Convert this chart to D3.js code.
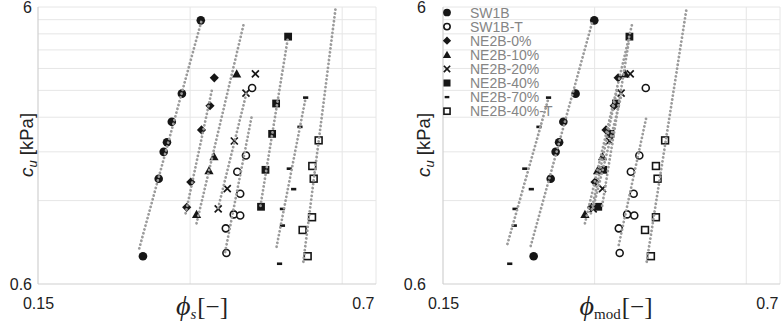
<!DOCTYPE html>
<html lang="en">
<head>
<meta charset="UTF-8">
<title>cu vs phi</title>
<script src="https://d3js.org/d3.v7.min.js"></script>
<style>
  body { margin: 0; background: #fff; overflow: hidden; }
  svg { display: block; }
  .tick text { font-family: "Liberation Sans", Arial, sans-serif; }
</style>
</head>
<body>
<script>
// series, same order as the legend
const seriesNames = ["SW1B", "SW1B-T", "NE2B-0%", "NE2B-10%", "NE2B-20%", "NE2B-40%", "NE2B-70%", "NE2B-40%-T"];
const seriesMarkers = ["circleFill", "circleOpen", "diamond", "triangle", "cross", "squareFill", "dash", "squareOpen"];

// undrained shear strength cu [kPa], shared by both panels
const cuValues = [
  [5.37, 2.92, 2.31, 1.95, 1.80, 1.44, 0.756],
  [3.06, 1.745, 1.525, 1.27, 1.07, 1.06, 0.953, 0.776],
  [3.33, 2.64, 2.16, 1.40, 1.135],
  [3.44, 1.73, 1.54, 1.07],
  [3.44, 2.93, 1.97, 1.325, 1.12],
  [4.69, 2.69, 2.09, 1.55, 1.14],
  [2.825, 2.215, 1.565, 1.32, 1.12, 0.975, 0.71],
  [1.98, 1.60, 1.44, 1.045, 0.94, 0.756]
];

// solid fraction phi_s (left panel)
const phiSValues = [
  [0.315, 0.289, 0.276, 0.270, 0.266, 0.260, 0.242],
  [0.398, 0.387, 0.372, 0.377, 0.366, 0.377, 0.353, 0.354],
  [0.335, 0.3285, 0.316, 0.301, 0.2954],
  [0.371, 0.3345, 0.327, 0.309],
  [0.404, 0.387, 0.367, 0.3554, 0.341],
  [0.469, 0.444, 0.436, 0.423, 0.4145],
  [0.508, 0.495, 0.4715, 0.481, 0.457, 0.457, 0.451],
  [0.539, 0.5236, 0.527, 0.523, 0.501, 0.5127]
];

// modified fraction phi_mod (right panel)
const phiModValues = [
  [0.2995, 0.275, 0.260, 0.255, 0.251, 0.2454, 0.227],
  [0.379, 0.368, 0.354, 0.3586, 0.348, 0.3596, 0.335, 0.3364],
  [0.334, 0.328, 0.316, 0.3005, 0.2957],
  [0.345, 0.311, 0.304, 0.287],
  [0.353, 0.3386, 0.321, 0.311, 0.298],
  [0.3517, 0.3306, 0.3225, 0.312, 0.305],
  [0.243, 0.2326, 0.218, 0.2246, 0.2085, 0.2078, 0.2035],
  [0.414, 0.397, 0.400, 0.397, 0.3777, 0.388]
];

// power trend lines, [phi1, cu1, phi2, cu2]
const trendS = [
  [0.238, 0.807, 0.316, 5.35],
  [0.352, 0.783, 0.397, 2.40],
  [0.294, 1.08, 0.332, 3.06],
  [0.309, 0.994, 0.384, 5.31],
  [0.341, 1.13, 0.388, 2.94],
  [0.4135, 1.15, 0.469, 4.69],
  [0.445, 0.818, 0.508, 2.82],
  [0.5026, 0.722, 0.5825, 5.98]
];
const trendMod = [
  [0.224, 0.823, 0.297, 5.32],
  [0.335, 0.83, 0.380, 2.40],
  [0.295, 1.08, 0.333, 3.06],
  [0.287, 0.994, 0.357, 5.31],
  [0.298, 1.13, 0.340, 2.94],
  [0.3105, 1.15, 0.352, 4.69],
  [0.2014, 0.837, 0.2424, 2.77],
  [0.3806, 0.722, 0.457, 5.98]
];

const xDomain = [0.15, 0.7];
const yDomain = [0.6, 6];
const xTicks = [0.15, 0.7];
const yTicks = [0.6, 6];
const xGrid = [0.3, 0.6, 0.7];
const yGrid = [1.2, 1.8, 2.4, 3.0, 3.6, 4.2, 4.8, 5.4, 6.0];

const width = 782, height = 321;
const plotTop = 7, plotBottom = 284;
const ink = "#161616";

const svg = d3.select("body").append("svg")
  .attr("width", width)
  .attr("height", height);

function drawMarker(g, type, k) {
  k = k || 1;
  if (type === "circleFill") {
    g.append("circle").attr("r", 4.3 * k).attr("fill", ink);
  } else if (type === "circleOpen") {
    g.append("circle").attr("r", 3.5 * k).attr("fill", "#fff").attr("stroke", ink).attr("stroke-width", 1.6);
  } else if (type === "diamond") {
    const s = 4.6 * k;
    g.append("path").attr("d", `M0,${-s}L${s},0L0,${s}L${-s},0Z`).attr("fill", ink);
  } else if (type === "triangle") {
    const s = 4.6 * k;
    g.append("path").attr("d", `M0,${-s}L${s},${s * 0.8}L${-s},${s * 0.8}Z`).attr("fill", ink);
  } else if (type === "cross") {
    const s = 3.5 * k;
    g.append("path").attr("d", `M${-s},${-s}L${s},${s}M${s},${-s}L${-s},${s}`)
      .attr("stroke", ink).attr("stroke-width", 1.7).attr("fill", "none");
  } else if (type === "squareFill") {
    const s = 3.9 * k;
    g.append("rect").attr("x", -s).attr("y", -s).attr("width", 2 * s).attr("height", 2 * s).attr("fill", ink);
  } else if (type === "dash") {
    g.append("rect").attr("x", -2.6 * k).attr("y", -1.3 * k).attr("width", 5.2 * k).attr("height", 2.6 * k).attr("fill", ink);
  } else if (type === "squareOpen") {
    const s = 3.4 * k;
    g.append("rect").attr("x", -s).attr("y", -s).attr("width", 2 * s).attr("height", 2 * s)
      .attr("fill", "#fff").attr("stroke", ink).attr("stroke-width", 1.6);
  }
}

const panels = [
  { x0: 38, x1: 376, phi: phiSValues, trend: trendS, sub: "s", subItalic: true, tickRight: 32, yTitleX: 33, titleX: 202, legend: false, id: "a" },
  { x0: 443, x1: 780, phi: phiModValues, trend: trendMod, sub: "mod", subItalic: false, tickRight: 426, yTitleX: 430, titleX: 616, legend: true, id: "b" }
];

panels.forEach(p => {
  const x = d3.scaleLog().domain(xDomain).range([p.x0, p.x1]);
  const y = d3.scaleLog().domain(yDomain).range([plotBottom, plotTop]);
  const g = svg.append("g");

  svg.append("clipPath").attr("id", "clip-" + p.id)
    .append("rect").attr("x", p.x0).attr("y", plotTop).attr("width", p.x1 - p.x0).attr("height", plotBottom - plotTop);

  // gridlines
  g.append("g").selectAll("line").data(yGrid).join("line")
    .attr("x1", p.x0).attr("x2", p.x1)
    .attr("y1", d => y(d)).attr("y2", d => y(d))
    .attr("stroke", "#e6e6e6").attr("stroke-width", 1);
  g.append("g").selectAll("line").data(xGrid).join("line")
    .attr("x1", d => x(d)).attr("x2", d => x(d))
    .attr("y1", plotTop).attr("y2", plotBottom)
    .attr("stroke", "#e6e6e6").attr("stroke-width", 1);

  // axis lines
  g.append("line").attr("x1", p.x0).attr("x2", p.x0).attr("y1", plotTop).attr("y2", plotBottom)
    .attr("stroke", "#d0d0d0").attr("stroke-width", 1.2);
  g.append("line").attr("x1", p.x0).attr("x2", p.x1).attr("y1", plotBottom).attr("y2", plotBottom)
    .attr("stroke", "#d0d0d0").attr("stroke-width", 1.2);

  // tick labels
  const xAxis = g.append("g").attr("transform", `translate(0,${plotBottom})`)
    .call(d3.axisBottom(x).tickValues(xTicks).tickSize(0).tickPadding(14).tickFormat(d3.format("")));
  xAxis.select(".domain").remove();
  xAxis.selectAll("text").attr("font-size", 16).attr("fill", "#222")
    .attr("text-anchor", d => d === 0.7 ? "end" : "middle")
    .attr("dx", d => d === 0.7 ? -2 : 0);

  const yAxis = g.append("g").attr("transform", `translate(${p.tickRight},0)`)
    .call(d3.axisLeft(y).tickValues(yTicks).tickSize(0).tickPadding(0).tickFormat(d3.format("")));
  yAxis.select(".domain").remove();
  yAxis.selectAll("text").attr("font-size", 16).attr("fill", "#222");

  // axis titles
  const xt = g.append("text")
    .attr("x", p.titleX).attr("y", 315)
    .attr("text-anchor", "middle")
    .attr("font-family", "'Liberation Serif', 'DejaVu Serif', serif")
    .attr("fill", "#222");
  xt.append("tspan").attr("font-size", 28).attr("font-style", "italic").text("\u03D5");
  xt.append("tspan").attr("font-size", 15).attr("dy", 4)
    .attr("font-style", p.subItalic ? "italic" : "normal").text(p.sub);
  xt.append("tspan").attr("font-size", 25).attr("dy", -4).attr("dx", 1).text("[\u2212]");

  const yt = g.append("text")
    .attr("transform", `translate(${p.yTitleX},145) rotate(-90)`)
    .attr("text-anchor", "middle")
    .attr("font-family", "'Liberation Sans', Arial, sans-serif")
    .attr("fill", "#222");
  yt.append("tspan").attr("font-size", 19).attr("font-style", "italic").text("c");
  yt.append("tspan").attr("font-size", 13).attr("font-style", "italic").attr("dy", 4).text("u");
  yt.append("tspan").attr("font-size", 18.5).attr("dy", -4).text(" [kPa]");

  // markers
  const marks = g.append("g");
  seriesNames.forEach((name, i) => {
    const pts = cuValues[i].map((c, j) => [p.phi[i][j], c]);
    marks.append("g").selectAll("g").data(pts).join("g")
      .attr("transform", d => `translate(${x(d[0])},${y(d[1])})`)
      .each(function () { drawMarker(d3.select(this), seriesMarkers[i]); });
  });

  // dotted trend lines, drawn over the markers
  g.append("g").attr("clip-path", `url(#clip-${p.id})`)
    .selectAll("line").data(p.trend).join("line")
    .attr("x1", d => x(d[0])).attr("y1", d => y(d[1]))
    .attr("x2", d => x(d[2])).attr("y2", d => y(d[3]))
    .attr("stroke", "#9b9b9b")
    .attr("stroke-width", 2.8)
    .attr("stroke-linecap", "round")
    .attr("stroke-dasharray", "0.01 3.9");

  // legend
  if (p.legend) {
    const lg = g.append("g");
    seriesNames.forEach((name, i) => {
      const row = lg.append("g").attr("transform", `translate(${p.x0 + 4},${12.5 + i * 14.1})`);
      drawMarker(row.append("g"), seriesMarkers[i], 0.9);
      row.append("text").attr("x", 23).attr("y", 5)
        .attr("font-family", "'Liberation Sans', Arial, sans-serif")
        .attr("font-size", 14).attr("fill", "#858585").text(name);
    });
  }
});
</script>
</body>
</html>
